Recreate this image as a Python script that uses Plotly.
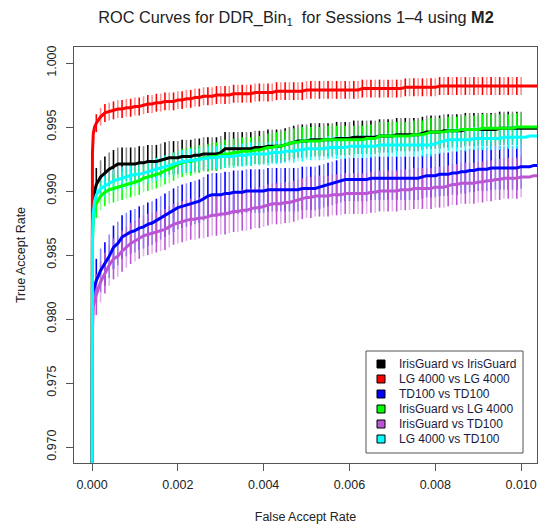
import plotly.graph_objects as go

# ---------------- data ----------------
labels = ["IrisGuard vs IrisGuard", "LG 4000 vs LG 4000", "TD100 vs TD100",
          "IrisGuard vs LG 4000", "IrisGuard vs TD100", "LG 4000 vs TD100"]
colors = ["#000000", "#ff0000", "#0000ff", "#00ff00", "#bb55d3", "#00ffff"]
light_colors = ["rgba(0,0,0,0.45)", "rgba(255,0,0,0.45)", "rgba(0,0,255,0.45)",
                "rgba(0,255,0,0.45)", "rgba(187,85,211,0.45)", "rgba(0,255,255,0.45)"]

far_early = [0.0, 0.00001, 0.00003, 0.00006]
far_grid = [0.0001, 0.0002, 0.0003, 0.0004, 0.0005, 0.0006, 0.0007, 0.0008, 0.0009, 0.0010,
            0.0011, 0.0012, 0.0013, 0.0014, 0.0015, 0.0016, 0.0017, 0.0018, 0.0019, 0.0020,
            0.0021, 0.0022, 0.0023, 0.0024, 0.0025, 0.0026, 0.0027, 0.0028, 0.0029, 0.0030,
            0.0031, 0.0032, 0.0033, 0.0034, 0.0035, 0.0036, 0.0037, 0.0038, 0.0039, 0.0040,
            0.0041, 0.0042, 0.0043, 0.0044, 0.0045, 0.0046, 0.0047, 0.0048, 0.0049, 0.0050,
            0.0051, 0.0052, 0.0053, 0.0054, 0.0055, 0.0056, 0.0057, 0.0058, 0.0059, 0.0060,
            0.0061, 0.0062, 0.0063, 0.0064, 0.0065, 0.0066, 0.0067, 0.0068, 0.0069, 0.0070,
            0.0071, 0.0072, 0.0073, 0.0074, 0.0075, 0.0076, 0.0077, 0.0078, 0.0079, 0.0080,
            0.0081, 0.0082, 0.0083, 0.0084, 0.0085, 0.0086, 0.0087, 0.0088, 0.0089, 0.0090,
            0.0091, 0.0092, 0.0093, 0.0094, 0.0095, 0.0096, 0.0097, 0.0098, 0.0099, 0.0100,
            0.0101, 0.0102, 0.0103, 0.0104, 0.0105]
n_bars = 100  # error bars drawn at FAR 0.0001 ... 0.0100

tar_early_black = [0.960, 0.9870, 0.9890, 0.9900]
tar_black = [0.9905, 0.9911, 0.9914, 0.9917, 0.9919, 0.9921, 0.9921, 0.9921, 0.9921, 0.9921,
             0.9922, 0.9922, 0.9923, 0.9923, 0.9923, 0.9924, 0.9925, 0.9926, 0.9926, 0.9926,
             0.9927, 0.9927, 0.9927, 0.9928, 0.9928, 0.9929, 0.9929, 0.9929, 0.9929, 0.9930,
             0.9933, 0.9933, 0.9933, 0.9933, 0.9933, 0.9933, 0.9933, 0.9934, 0.9934, 0.9934,
             0.9935, 0.9935, 0.9935, 0.9935, 0.9936, 0.9937, 0.9938, 0.9939, 0.9939, 0.9939,
             0.9940, 0.9940, 0.9940, 0.9940, 0.9940, 0.9940, 0.9941, 0.9941, 0.9941, 0.9941,
             0.9942, 0.9942, 0.9942, 0.9942, 0.9942, 0.9942, 0.9943, 0.9943, 0.9943, 0.9943,
             0.9944, 0.9944, 0.9944, 0.9944, 0.9944, 0.9944, 0.9945, 0.9946, 0.9946, 0.9946,
             0.9946, 0.9947, 0.9947, 0.9947, 0.9947, 0.9947, 0.9948, 0.9948, 0.9948, 0.9948,
             0.9948, 0.9948, 0.9948, 0.9948, 0.9949, 0.9949, 0.9949, 0.9949, 0.9949, 0.9949,
             0.9949, 0.9949, 0.9949, 0.9949, 0.9949]

tar_early_red = [0.960, 0.9930, 0.9945, 0.9950]
tar_red = [0.9953, 0.9958, 0.9961, 0.9962, 0.9963, 0.9964, 0.9964, 0.9965, 0.9965, 0.9966,
           0.9966, 0.9967, 0.9968, 0.9968, 0.9969, 0.9969, 0.9970, 0.9970, 0.9970, 0.9971,
           0.9971, 0.9972, 0.9972, 0.9973, 0.9973, 0.9974, 0.9974, 0.9974, 0.9975, 0.9975,
           0.9975, 0.9975, 0.9976, 0.9976, 0.9976, 0.9976, 0.9976, 0.9977, 0.9977, 0.9977,
           0.9977, 0.9977, 0.9978, 0.9978, 0.9978, 0.9978, 0.9978, 0.9978, 0.9978, 0.9979,
           0.9979, 0.9979, 0.9979, 0.9979, 0.9979, 0.9979, 0.9979, 0.9979, 0.9979, 0.9979,
           0.9979, 0.9979, 0.9980, 0.9980, 0.9980, 0.9980, 0.9980, 0.9980, 0.9980, 0.9980,
           0.9980, 0.9980, 0.9981, 0.9981, 0.9981, 0.9981, 0.9981, 0.9981, 0.9981, 0.9981,
           0.9982, 0.9982, 0.9982, 0.9982, 0.9982, 0.9982, 0.9982, 0.9982, 0.9982, 0.9982,
           0.9982, 0.9982, 0.9982, 0.9982, 0.9982, 0.9982, 0.9982, 0.9982, 0.9982, 0.9982,
           0.9982, 0.9982, 0.9982, 0.9982, 0.9982]

tar_early_blue = [0.960, 0.9812, 0.9822, 0.9826]
tar_blue = [0.9830, 0.9838, 0.9843, 0.9849, 0.9856, 0.9859, 0.9864, 0.9866, 0.9868, 0.9869,
            0.9871, 0.9872, 0.9874, 0.9875, 0.9877, 0.9879, 0.9881, 0.9883, 0.9885, 0.9887,
            0.9888, 0.9889, 0.9890, 0.9891, 0.9892, 0.9894, 0.9896, 0.9897, 0.9897, 0.9897,
            0.9898, 0.9898, 0.9899, 0.9899, 0.9899, 0.9900, 0.9900, 0.9900, 0.9900, 0.9900,
            0.9901, 0.9901, 0.9901, 0.9901, 0.9901, 0.9901, 0.9901, 0.9901, 0.9902, 0.9902,
            0.9902, 0.9902, 0.9903, 0.9904, 0.9905, 0.9906, 0.9907, 0.9908, 0.9909, 0.9909,
            0.9909, 0.9909, 0.9909, 0.9909, 0.9910, 0.9910, 0.9910, 0.9910, 0.9910, 0.9910,
            0.9910, 0.9910, 0.9910, 0.9910, 0.9910, 0.9910, 0.9911, 0.9912, 0.9912, 0.9912,
            0.9913, 0.9913, 0.9913, 0.9914, 0.9914, 0.9915, 0.9915, 0.9916, 0.9916, 0.9917,
            0.9917, 0.9917, 0.9918, 0.9918, 0.9918, 0.9918, 0.9918, 0.9918, 0.9918, 0.9919,
            0.9919, 0.9919, 0.9920, 0.9920, 0.9920]

tar_early_green = [0.960, 0.9860, 0.9878, 0.9886]
tar_green = [0.9890, 0.9896, 0.9899, 0.9901, 0.9902, 0.9903, 0.9904, 0.9905, 0.9906, 0.9907,
             0.9908, 0.9910, 0.9911, 0.9912, 0.9913, 0.9914, 0.9916, 0.9917, 0.9919, 0.9921,
             0.9922, 0.9923, 0.9923, 0.9924, 0.9925, 0.9926, 0.9926, 0.9927, 0.9927, 0.9928,
             0.9929, 0.9929, 0.9930, 0.9930, 0.9931, 0.9931, 0.9931, 0.9932, 0.9932, 0.9933,
             0.9934, 0.9934, 0.9935, 0.9935, 0.9936, 0.9937, 0.9938, 0.9938, 0.9939, 0.9939,
             0.9939, 0.9939, 0.9939, 0.9940, 0.9940, 0.9940, 0.9940, 0.9940, 0.9940, 0.9940,
             0.9940, 0.9940, 0.9940, 0.9941, 0.9941, 0.9941, 0.9943, 0.9943, 0.9943, 0.9943,
             0.9943, 0.9943, 0.9943, 0.9943, 0.9944, 0.9944, 0.9944, 0.9945, 0.9946, 0.9946,
             0.9946, 0.9946, 0.9947, 0.9947, 0.9947, 0.9948, 0.9948, 0.9948, 0.9948, 0.9948,
             0.9949, 0.9949, 0.9949, 0.9949, 0.9949, 0.9949, 0.9949, 0.9949, 0.9950, 0.9950,
             0.9950, 0.9950, 0.9950, 0.9950, 0.9950]

tar_early_purple = [0.960, 0.9790, 0.9810, 0.9815]
tar_purple = [0.9819, 0.9829, 0.9836, 0.9842, 0.9847, 0.9849, 0.9853, 0.9856, 0.9859, 0.9861,
              0.9863, 0.9865, 0.9866, 0.9867, 0.9868, 0.9869, 0.9870, 0.9872, 0.9874, 0.9875,
              0.9876, 0.9877, 0.9878, 0.9878, 0.9879, 0.9879, 0.9880, 0.9881, 0.9881, 0.9882,
              0.9882, 0.9883, 0.9884, 0.9884, 0.9885, 0.9885, 0.9886, 0.9887, 0.9887, 0.9888,
              0.9889, 0.9890, 0.9890, 0.9890, 0.9891, 0.9891, 0.9892, 0.9893, 0.9894, 0.9895,
              0.9895, 0.9896, 0.9896, 0.9896, 0.9896, 0.9897, 0.9897, 0.9897, 0.9898, 0.9898,
              0.9898, 0.9898, 0.9898, 0.9898, 0.9899, 0.9899, 0.9900, 0.9900, 0.9900, 0.9900,
              0.9900, 0.9901, 0.9901, 0.9901, 0.9902, 0.9902, 0.9902, 0.9902, 0.9902, 0.9903,
              0.9903, 0.9903, 0.9904, 0.9905, 0.9905, 0.9906, 0.9906, 0.9906, 0.9906, 0.9907,
              0.9907, 0.9908, 0.9908, 0.9909, 0.9909, 0.9910, 0.9910, 0.9910, 0.9910, 0.9911,
              0.9911, 0.9911, 0.9912, 0.9912, 0.9912]

tar_early_cyan = [0.960, 0.9862, 0.9883, 0.9892]
tar_cyan = [0.9897, 0.9902, 0.9904, 0.9906, 0.9908, 0.9909, 0.9910, 0.9911, 0.9912, 0.9913,
            0.9913, 0.9914, 0.9915, 0.9916, 0.9917, 0.9918, 0.9919, 0.9920, 0.9921, 0.9922,
            0.9923, 0.9923, 0.9924, 0.9924, 0.9925, 0.9925, 0.9926, 0.9926, 0.9926, 0.9927,
            0.9927, 0.9927, 0.9927, 0.9928, 0.9928, 0.9928, 0.9929, 0.9929, 0.9929, 0.9929,
            0.9929, 0.9930, 0.9930, 0.9930, 0.9931, 0.9931, 0.9931, 0.9932, 0.9932, 0.9933,
            0.9933, 0.9933, 0.9933, 0.9933, 0.9934, 0.9934, 0.9934, 0.9934, 0.9934, 0.9935,
            0.9935, 0.9935, 0.9935, 0.9935, 0.9935, 0.9935, 0.9936, 0.9936, 0.9936, 0.9936,
            0.9936, 0.9936, 0.9936, 0.9936, 0.9936, 0.9936, 0.9936, 0.9936, 0.9936, 0.9937,
            0.9938, 0.9939, 0.9940, 0.9940, 0.9940, 0.9940, 0.9940, 0.9940, 0.9941, 0.9941,
            0.9941, 0.9941, 0.9941, 0.9941, 0.9941, 0.9942, 0.9942, 0.9942, 0.9942, 0.9942,
            0.9942, 0.9943, 0.9943, 0.9943, 0.9943]

tar_early = [tar_early_black, tar_early_red, tar_early_blue, tar_early_green, tar_early_purple, tar_early_cyan]
tar = [tar_black, tar_red, tar_blue, tar_green, tar_purple, tar_cyan]
err_half = [0.0013, 0.0007, 0.0017, 0.0011, 0.0016, 0.0009]

x_ticks = [0.000, 0.002, 0.004, 0.006, 0.008, 0.010]
y_ticks = [0.970, 0.975, 0.980, 0.985, 0.990, 0.995, 1.000]

# ---------------- layout geometry (pixels) ----------------
W, H = 543, 529
M_L, M_R, M_T, M_B = 74, 6, 47, 66
PW, PH = W - M_L - M_R, H - M_T - M_B


def px_x(p):  # pixel -> paper x
    return (p - M_L) / PW


def px_y(p):  # pixel -> paper y
    return (H - M_B - p) / PH


# ---------------- figure ----------------
fig = go.Figure()

# error bars (alternating full / translucent shade)
for i in range(len(labels)):
    xb = far_grid[:n_bars]
    yb = tar[i][:n_bars]
    for parity, col in ((0, colors[i]), (1, light_colors[i])):
        fig.add_trace(go.Scatter(
            x=xb[parity::2], y=yb[parity::2], mode="markers",
            marker=dict(size=1, color="rgba(0,0,0,0)"),
            error_y=dict(type="constant", value=err_half[i], width=0,
                         thickness=1.6, color=col),
            showlegend=False, hoverinfo="skip"))

# curves
for i in range(len(labels)):
    fig.add_trace(go.Scatter(
        x=far_early + far_grid, y=tar_early[i] + tar[i], mode="lines", name=labels[i],
        line=dict(color=colors[i], width=3), showlegend=False))

# manual legend (R-style compact box)
LEG_L, LEG_R, LEG_T, LEG_B = 366, 523, 351, 453
ITEM_Y0, ITEM_DY = 364, 15
SQ_L, SQ_SIZE, TXT_L = 377, 8, 397
shapes = [dict(type="rect", xref="paper", yref="paper",
               x0=px_x(LEG_L), x1=px_x(LEG_R), y0=px_y(LEG_B), y1=px_y(LEG_T),
               line=dict(color="#555555", width=1), fillcolor="white", layer="above")]
annotations = []
for k, lab in enumerate(labels):
    cy = ITEM_Y0 + k * ITEM_DY
    shapes.append(dict(type="rect", xref="paper", yref="paper",
                       x0=px_x(SQ_L), x1=px_x(SQ_L + SQ_SIZE),
                       y0=px_y(cy + SQ_SIZE / 2), y1=px_y(cy - SQ_SIZE / 2),
                       line=dict(color="black", width=1), fillcolor=colors[k], layer="above"))
    annotations.append(dict(xref="paper", yref="paper", x=px_x(TXT_L), y=px_y(cy),
                            xanchor="left", yanchor="middle", showarrow=False, text=lab,
                            font=dict(size=12, color="#1a1a40")))

axis_common = dict(showgrid=False, zeroline=False, showline=True, linecolor="#555555",
                   linewidth=1.3, mirror=True, ticks="outside", ticklen=7,
                   tickcolor="#555555", tickwidth=1.3, tickformat=".3f",
                   tickfont=dict(family="Liberation Sans, Arial, sans-serif", size=12.5, color="#222222"))

fig.update_layout(
    width=W, height=H,
    margin=dict(l=M_L, r=M_R, t=M_T, b=M_B),
    paper_bgcolor="white", plot_bgcolor="white",
    font=dict(family="Liberation Sans, Arial, sans-serif", color="#222222"),
    showlegend=False,
    title=dict(text="ROC Curves for DDR_Bin<sub>1</sub>  for Sessions 1\u20134 using <b>M2</b>",
               x=296 / W, xanchor="center", y=1 - 17 / H, yanchor="middle",
               font=dict(size=16.3, color="#222222")),
    xaxis=dict(range=[-0.00042, 0.01037], tickvals=x_ticks, ticklabelstandoff=3,
               title=dict(text="False Accept Rate", standoff=21, font=dict(size=12.5)),
               **axis_common),
    yaxis=dict(range=[0.96875, 1.00125], tickvals=y_ticks, tickangle=-90, ticklabelstandoff=5,
               title=dict(text="True Accept Rate", standoff=16, font=dict(size=12.5)),
               **axis_common),
    shapes=shapes,
    annotations=annotations,
)

fig.write_html("out.html")
